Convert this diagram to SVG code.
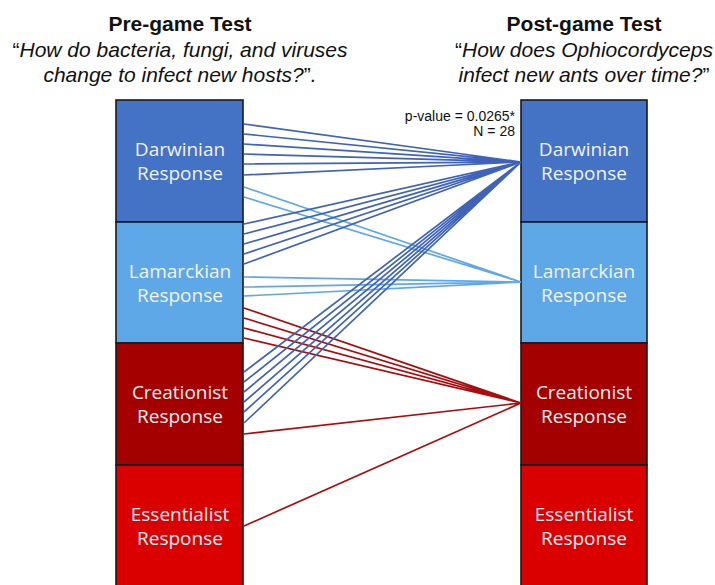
<svg xmlns="http://www.w3.org/2000/svg" width="715" height="585" viewBox="0 0 715 585">
<style>
.bg{fill:#ffffff}
.box{stroke:#1a1a1a;stroke-width:1.6}
.d{fill:#4472C4}
.l{fill:#5FA8E8}
.c{fill:#A50000}
.e{fill:#DA0000}
.lbl{font-family:"Open Sans","Noto Sans",sans-serif;font-size:19px;fill:#F2F2F2;text-anchor:middle}
.title{font-family:"Liberation Sans",Arial,sans-serif;font-size:21px;font-weight:bold;fill:#111;text-anchor:middle}
.q{font-family:"Liberation Sans",Arial,sans-serif;font-size:21px;font-style:italic;fill:#111;text-anchor:middle}
.up{font-style:normal}
.stat{font-family:"Liberation Sans",Arial,sans-serif;font-size:14px;fill:#111;text-anchor:end}
.toD{stroke:#3F63B8;stroke-width:1.7;fill:none}
.toL{stroke:#5FA8E8;stroke-width:1.7;fill:none}
.toC{stroke:#A80C0C;stroke-width:1.7;fill:none}
</style>
<rect class="bg" x="0" y="0" width="715" height="585"/>
<g id="titles">
<text class="title" x="180" y="31">Pre-game Test</text>
<text class="q" x="180" y="57"><tspan class="up">“</tspan>How do bacteria, fungi, and viruses</text>
<text class="q" x="180" y="82">change to infect new hosts?<tspan class="up">”</tspan>.</text>
<text class="title" x="584" y="31">Post-game Test</text>
<text class="q" x="584" y="57"><tspan class="up">“</tspan>How does Ophiocordyceps</text>
<text class="q" x="584" y="82">infect new ants over time?<tspan class="up">”</tspan></text>
</g>
<g id="pre-darwinian"><rect class="box d" x="116" y="100" width="127" height="122"/><text class="lbl" x="180" y="156">Darwinian</text><text class="lbl" x="180" y="180">Response</text></g>
<g id="pre-lamarckian"><rect class="box l" x="116" y="222" width="127" height="121"/><text class="lbl" x="180" y="278">Lamarckian</text><text class="lbl" x="180" y="302">Response</text></g>
<g id="pre-creationist"><rect class="box c" x="116" y="343" width="127" height="122"/><text class="lbl" x="180" y="399">Creationist</text><text class="lbl" x="180" y="423">Response</text></g>
<g id="pre-essentialist"><rect class="box e" x="116" y="465" width="127" height="125"/><text class="lbl" x="180" y="521">Essentialist</text><text class="lbl" x="180" y="545">Response</text></g>
<g id="post-darwinian"><rect class="box d" x="521" y="100" width="126" height="122"/><text class="lbl" x="584" y="156">Darwinian</text><text class="lbl" x="584" y="180">Response</text></g>
<g id="post-lamarckian"><rect class="box l" x="521" y="222" width="126" height="121"/><text class="lbl" x="584" y="278">Lamarckian</text><text class="lbl" x="584" y="302">Response</text></g>
<g id="post-creationist"><rect class="box c" x="521" y="343" width="126" height="122"/><text class="lbl" x="584" y="399">Creationist</text><text class="lbl" x="584" y="423">Response</text></g>
<g id="post-essentialist"><rect class="box e" x="521" y="465" width="126" height="125"/><text class="lbl" x="584" y="521">Essentialist</text><text class="lbl" x="584" y="545">Response</text></g>
<g id="connectors">
<path class="toD" d="M244 124L521 162M244 134L521 162M244 144L521 162M244 154L521 162M244 164L521 162M244 175L521 162"/>
<path class="toL" d="M244 187L521 282M244 197L521 282"/>
<path class="toD" d="M244 224L521 162M244 234L521 162M244 244L521 162M244 254L521 162M244 264L521 162"/>
<path class="toL" d="M244 277L521 282M244 287L521 282M244 296L521 282"/>
<path class="toC" d="M244 308L521 403M244 318L521 403M244 328L521 403M244 338L521 403"/>
<path class="toD" d="M244 372L521 162M244 382L521 162M244 392L521 162M244 402L521 162M244 412L521 162M244 423L521 162"/>
<path class="toC" d="M244 434L521 403M244 526L521 403"/>
</g>
<g id="stats">
<text class="stat" x="515" y="121">p-value = 0.0265*</text>
<text class="stat" x="515" y="136">N = 28</text>
</g>
</svg>
